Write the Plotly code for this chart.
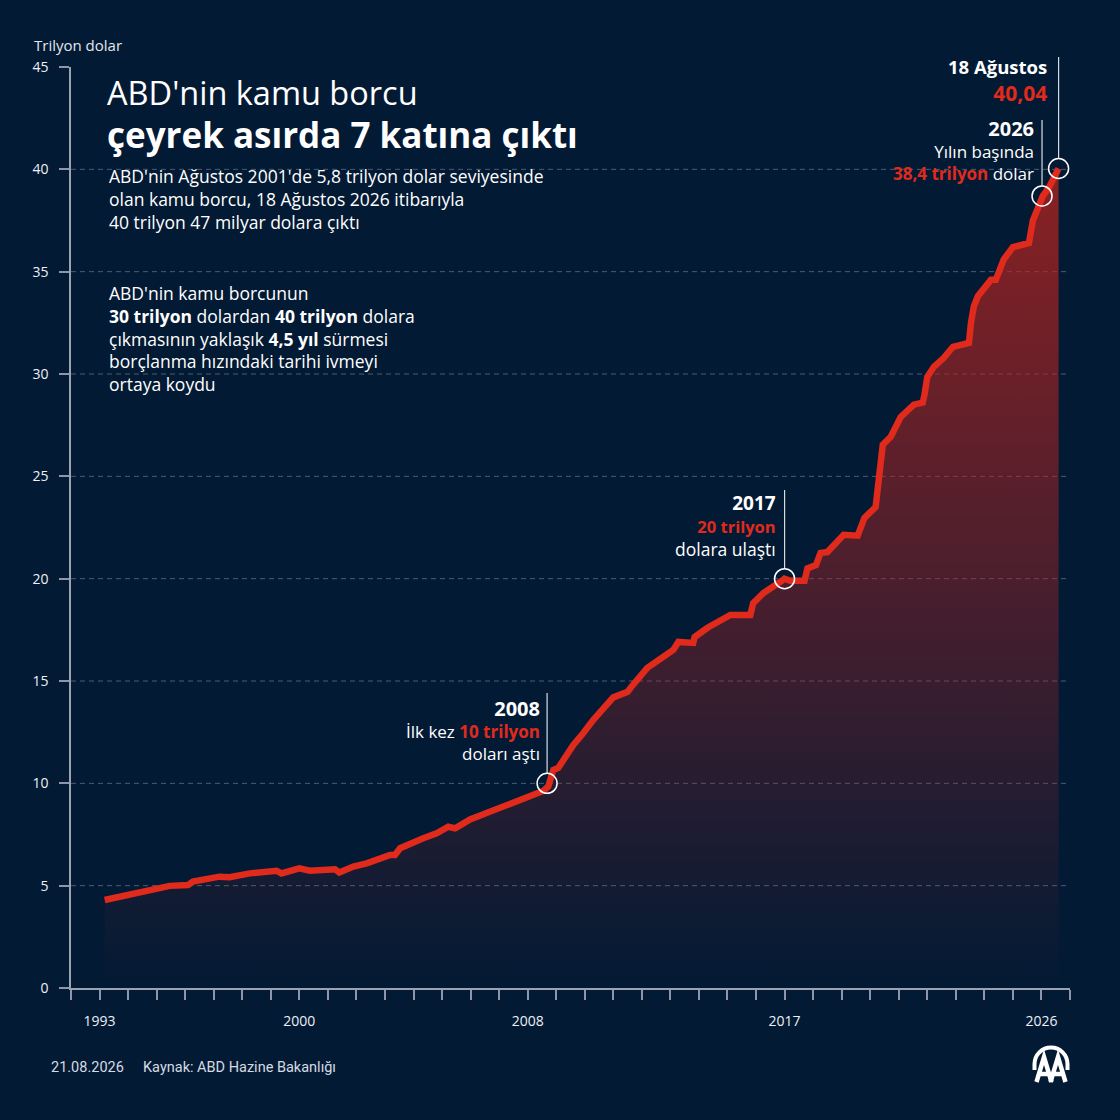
import plotly.graph_objects as go

# ABD kamu borcu (trilyon dolar)
years = [
    1993.18, 1993.82, 1994.52, 1995.46, 1996.10, 1996.27, 1997.20, 1997.56,
    1998.26, 1999.20, 1999.37, 2000.00, 2000.37, 2001.25, 2001.40, 2001.89,
    2002.36, 2003.18, 2003.35, 2003.53, 2004.34, 2004.81, 2005.22, 2005.46,
    2005.98, 2006.57, 2007.27, 2008.09, 2008.56, 2008.72, 2008.79, 2008.90,
    2009.07, 2009.60, 2009.95, 2010.30, 2011.00, 2011.50, 2011.60, 2012.19,
    2013.10, 2013.28, 2013.80, 2013.85, 2014.30, 2014.86, 2015.10, 2015.80,
    2015.90, 2016.26, 2016.75, 2016.96, 2017.00, 2017.20, 2017.70, 2017.80,
    2018.10, 2018.26, 2018.50, 2019.07, 2019.56, 2019.80, 2020.19, 2020.44,
    2020.72, 2021.07, 2021.53, 2021.84, 2021.90, 2022.00, 2022.23, 2022.58,
    2022.90, 2023.46, 2023.53, 2023.63, 2023.77, 2023.88, 2024.23, 2024.40,
    2024.68, 2025.00, 2025.35, 2025.56, 2025.70, 2025.88, 2026.05, 2026.26,
    2026.60,
]
debt = [
    4.30, 4.50, 4.71, 4.99, 5.03, 5.20, 5.44, 5.41,
    5.60, 5.73, 5.60, 5.85, 5.73, 5.80, 5.64, 5.93,
    6.09, 6.50, 6.50, 6.83, 7.32, 7.56, 7.88, 7.80,
    8.24, 8.54, 8.90, 9.38, 9.64, 9.85, 10.17, 10.65,
    10.75, 11.88, 12.46, 13.10, 14.20, 14.47, 14.66, 15.64,
    16.52, 16.91, 16.86, 17.15, 17.60, 17.99, 18.23, 18.23,
    18.80, 19.30, 19.70, 19.95, 20.00, 19.90, 19.90, 20.50,
    20.67, 21.26, 21.30, 22.14, 22.10, 22.97, 23.50, 26.54,
    26.93, 27.90, 28.50, 28.60, 28.98, 29.86, 30.35, 30.79,
    31.33, 31.52, 32.50, 33.30, 33.80, 33.97, 34.60, 34.60,
    35.60, 36.20, 36.30, 36.40, 37.50, 38.20, 38.70, 39.10,
    40.04,
]

# işaretlenen noktalar
mark_years = [2008.68, 2017.00, 2026.02, 2026.60]
mark_values = [10.0, 20.0, 38.7, 40.04]

x_tick_years = [1993, 2000, 2008, 2017, 2026]
y_tick_values = [0, 5, 10, 15, 20, 25, 30, 35, 40, 45]
grid_values = [5, 10, 15, 20, 25, 30, 35, 40]

BG = "#031a34"
RED = "#e02a1c"
WHITE = "#ffffff"
FONT = "Open Sans"

# plot alanı (piksel)
PL, PR, PT, PB = 71, 1070, 67, 988
X0, X1 = 1992, 2027


def paper_x(px):
    return (px - PL) / (PR - PL)


def paper_y(py):
    return (PB - py) / (PB - PT)


def year_px(year):
    return PL + (year - X0) / (X1 - X0) * (PR - PL)


def value_py(v):
    return PB - v / 45 * (PB - PT)


def pt(px, py):
    return f"{paper_x(px)},{paper_y(py)}"


fig = go.Figure()

fig.add_trace(go.Scatter(
    x=years, y=debt, mode="lines",
    line=dict(color=RED, width=6.5),
    fill="tozeroy",
    fillgradient=dict(
        type="vertical", start=0, stop=40,
        colorscale=[
            [0.0, "rgba(165,37,36,0.0)"],
            [0.125, "rgba(165,37,36,0.10)"],
            [0.25, "rgba(165,37,36,0.22)"],
            [0.375, "rgba(168,36,36,0.33)"],
            [0.5, "rgba(170,36,36,0.43)"],
            [0.625, "rgba(175,36,34,0.51)"],
            [0.75, "rgba(182,36,32,0.58)"],
            [0.875, "rgba(188,36,30,0.64)"],
            [1.0, "rgba(195,36,28,0.70)"],
        ],
    ),
    hoverinfo="skip", showlegend=False,
))

fig.add_trace(go.Scatter(
    x=mark_years, y=mark_values, mode="markers",
    marker=dict(symbol="circle-open", size=20, color=WHITE, line=dict(width=1.5, color=WHITE)),
    hoverinfo="skip", showlegend=False,
))

# kesikli yatay kılavuz çizgileri
for v in grid_values:
    fig.add_shape(type="line", xref="paper", x0=0, x1=1, yref="y", y0=v, y1=v,
                  line=dict(color="rgba(135,148,166,0.55)", width=1, dash="5px,4px"),
                  layer="below")

# işaret çizgileri (daire tepesinden etiketlere)
leader_tops = [693, 490, 120, 57]
for yr, v, top in zip(mark_years, mark_values, leader_tops):
    xp = paper_x(year_px(yr))
    fig.add_shape(type="line", xref="paper", yref="paper",
                  x0=xp, x1=xp, y0=paper_y(value_py(v) - 10), y1=paper_y(top),
                  line=dict(color="rgba(255,255,255,0.85)", width=1.2))

annotations = []


def add_text(lines, px, py, size, color=WHITE, anchor="left", family=FONT):
    # satır aralığı = 1.3 * size; py bloğun ortası
    annotations.append(dict(
        text="<br>".join(lines), x=paper_x(px), y=paper_y(py), xref="paper", yref="paper",
        xanchor=anchor, yanchor="middle", align=anchor, showarrow=False,
        font=dict(family=family, size=size, color=color),
    ))


def sized(s, size, bold=False, color=None):
    style = f"font-size:{size}px"
    if color:
        style += f";color:{color}"
    inner = f"<b>{s}</b>" if bold else s
    return f"<span style='{style}'>{inner}</span>"


def red_b(s):
    return f"<span style='color:{RED}'><b>{s}</b></span>"


BODY = 17.5

# başlık ve açıklamalar
add_text([sized("ABD'nin kamu borcu", 32.5),
          sized("çeyrek asırda 7 katına çıktı", 35, bold=True)], 105, 114, 33)

add_text([
    "ABD'nin Ağustos 2001'de 5,8 trilyon dolar seviyesinde",
    "olan kamu borcu, 18 Ağustos 2026 itibarıyla",
    "40 trilyon 47 milyar dolara çıktı",
], 107, 199, BODY)

add_text([
    "ABD'nin kamu borcunun",
    "<b>30 trilyon</b> dolardan <b>40 trilyon</b> dolara",
    "çıkmasının yaklaşık <b>4,5 yıl</b> sürmesi",
    "borçlanma hızındaki tarihi ivmeyi",
    "ortaya koydu",
], 107, 338, BODY)

# nokta etiketleri
add_text([sized("2008", 20, bold=True),
          "İlk kez " + red_b("10 trilyon"),
          "doları aştı"], 542, 730, 17, anchor="right")

add_text([sized("2017", 19, bold=True),
          sized("20 trilyon", 16.5, bold=True, color=RED),
          "dolara ulaştı"], 778, 525, BODY, anchor="right")

add_text([sized("18 Ağustos", 18.5, bold=True),
          sized("40,04", 21, bold=True, color=RED)], 1049, 80, 20.5, anchor="right")

add_text([sized("2026", 20, bold=True),
          "Yılın başında",
          red_b("38,4 trilyon") + " dolar"], 1036, 150, 17, anchor="right")

# eksen birimi ve kaynak
add_text(["Trilyon dolar"], 32, 45, 15, color="#e4e7ec")
add_text(["21.08.2026"], 49, 1067, 14.5, color="#d5dae2", family="Roboto")
add_text(["Kaynak: ABD Hazine Bakanlığı"], 141, 1067, 14.5, color="#d5dae2", family="Roboto")

# AA logosu (yay + iki A)
cx, cy, r, k = 1051, 1064, 16.5, 0.5523
arc = (
    f"M {pt(cx - r, cy + 6)} L {pt(cx - r, cy)} "
    f"C {pt(cx - r, cy - k * r)} {pt(cx - k * r, cy - r)} {pt(cx, cy - r)} "
    f"C {pt(cx + k * r, cy - r)} {pt(cx + r, cy - k * r)} {pt(cx + r, cy)} "
    f"L {pt(cx + r, cy + 6)}"
)
fig.add_shape(type="path", path=arc, xref="paper", yref="paper", line=dict(color=WHITE, width=4))
for left in (1036.5, 1050.5):
    a_path = (
        f"M {pt(left, 1082)} L {pt(left + 7.5, 1057)} L {pt(left + 15, 1082)} "
        f"M {pt(left + 3.5, 1074)} L {pt(left + 11.5, 1074)}"
    )
    fig.add_shape(type="path", path=a_path, xref="paper", yref="paper",
                  line=dict(color=WHITE, width=4.5))

fig.update_layout(
    width=1120, height=1120,
    margin=dict(l=PL, r=1120 - PR, t=PT, b=1120 - PB),
    paper_bgcolor=BG, plot_bgcolor=BG,
    font=dict(family=FONT, color=WHITE),
    annotations=annotations,
    showlegend=False,
)
fig.update_xaxes(
    range=[X0, X1], tickvals=x_tick_years, ticktext=[str(y) for y in x_tick_years],
    ticks="outside", ticklen=10, tickcolor="#8d97a8", tickwidth=1.5,
    minor=dict(dtick=1, tick0=1993, ticks="outside", ticklen=10, tickcolor="#8d97a8", tickwidth=1.5),
    showline=True, linecolor="#9aa3b0", linewidth=2,
    showgrid=False, zeroline=False,
    tickfont=dict(family=FONT, size=14, color="#eef0f4"),
    ticklabelstandoff=9,
)
fig.update_yaxes(
    range=[0, 45], tickvals=y_tick_values,
    ticks="outside", ticklen=10, tickcolor="#8d97a8", tickwidth=1.5,
    showline=True, linecolor="#9aa3b0", linewidth=1.5,
    showgrid=False, zeroline=False,
    tickfont=dict(family=FONT, size=14, color="#eef0f4"),
    ticklabelstandoff=8,
)

# sayfa kenar boşluğunu kaldır, araç çubuğunu gizle
fig.write_html(
    "out.html",
    config={"displayModeBar": False},
    post_script="document.body.style.margin='0';document.body.style.overflow='hidden';",
)
